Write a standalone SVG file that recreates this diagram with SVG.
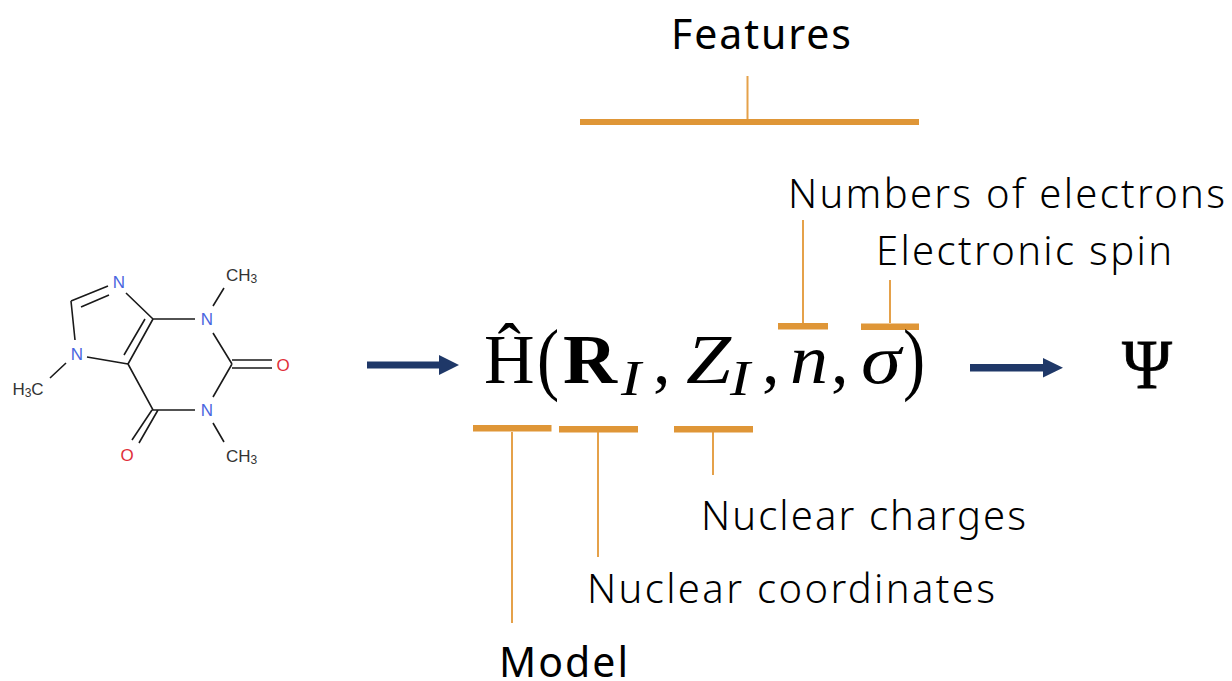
<svg xmlns="http://www.w3.org/2000/svg" width="1232" height="681" viewBox="0 0 1232 681">
<style>
.lb{font-family:"Noto Sans","Open Sans",sans-serif;font-size:40px;fill:#000;font-weight:300}
.hd{font-family:"Noto Sans","Open Sans",sans-serif;font-size:41px;fill:#000;font-weight:400}
.m{font-family:"Liberation Serif",serif;font-size:70px;fill:#000}
.i{font-style:italic}
.sub{font-size:50px;font-style:italic}
.bar{fill:#df9637}
.stem{stroke:#e5a14a;stroke-width:2;fill:none}
.bond{stroke:#1a1a1a;stroke-width:1.6;fill:none}
.at{font-family:"Liberation Sans",sans-serif;font-size:17px;text-anchor:middle}
.arr{fill:#1f3868}
</style>
<rect width="1232" height="681" fill="#fff"/>
<g id="molecule">
<path class="bond" d="M71 301L108 286M81 307L109 295M126 293L153 319L195 319M153 319L128 364M145 319L124 355M128 364L87 357M75 340L71 301M66 363L50 378M213 306L224 288M213 333L232 364M232 360H272M232 368H272M232 364L213 397M195 410H153L128 364M152 410L132 440M158 410L139 443M213 423L224 442"/>
<text class="at" x="119" y="288" fill="#4a66e0">N</text>
<text class="at" x="207" y="325" fill="#4a66e0">N</text>
<text class="at" x="207" y="416" fill="#4a66e0">N</text>
<text class="at" x="77" y="360" fill="#4a66e0">N</text>
<text class="at" x="283" y="371" fill="#e0303a">O</text>
<text class="at" x="127" y="461" fill="#e0303a">O</text>
<text class="at" x="241.500" y="281" fill="#333">CH<tspan font-size="12" dy="2">3</tspan></text>
<text class="at" x="241.500" y="462" fill="#333">CH<tspan font-size="12" dy="2">3</tspan></text>
<text class="at" x="28" y="395" fill="#333">H<tspan font-size="12" dy="2">3</tspan><tspan dy="-2">C</tspan></text>
</g>
<g id="connectors">
<path class="arr" d="M367 361.500H439V355L459 365L439 375V368.500H367Z"/>
<path class="arr" d="M970 364H1043V358L1063 367.700L1043 377.500V371.500H970Z"/>
<path class="stem" d="M747.500 76V119M803 220V323M890 280V323M512 432V623M598 432V557M713 432V475"/>
<rect class="bar" x="580" y="119" width="339" height="6"/>
<rect class="bar" x="778" y="323" width="50" height="6.500"/>
<rect class="bar" x="861" y="323.500" width="58" height="6.500"/>
<rect class="bar" x="473" y="425" width="78.500" height="6.500"/>
<rect class="bar" x="559" y="426" width="79" height="6.500"/>
<rect class="bar" x="674" y="426" width="79" height="6.500"/>
</g>
<g id="hamiltonian">
<text class="m" x="484" y="383">Ĥ</text>
<text class="m" transform="translate(537 385) scale(0.95 1.14)">(</text>
<text class="m" x="563" y="383" font-weight="700" textLength="54" lengthAdjust="spacingAndGlyphs">R</text>
<text class="m sub" x="621" y="395" textLength="20" lengthAdjust="spacingAndGlyphs">I</text>
<text class="m" x="653" y="383">,</text>
<text class="m i" x="686" y="383" textLength="45" lengthAdjust="spacingAndGlyphs">Z</text>
<text class="m sub" x="730" y="395" textLength="20" lengthAdjust="spacingAndGlyphs">I</text>
<text class="m" x="762" y="383">,</text>
<text class="m i" x="790" y="383" textLength="38" lengthAdjust="spacingAndGlyphs">n</text>
<text class="m" x="831" y="383">,</text>
<text class="m i" x="861" y="383" textLength="40" lengthAdjust="spacingAndGlyphs">σ</text>
<text class="m" transform="translate(903 385) scale(0.95 1.14)">)</text>
</g>
<g id="psi"><text class="m" x="1122" y="388" stroke="#000" stroke-width="0.8" textLength="50" lengthAdjust="spacingAndGlyphs">Ψ</text></g>
<g id="labels">
<text class="hd" x="671" y="49" textLength="180">Features</text>
<text class="lb" x="788" y="208" textLength="437">Numbers of electrons</text>
<text class="lb" x="876" y="265" textLength="296">Electronic spin</text>
<text class="lb" x="701" y="530" textLength="325">Nuclear charges</text>
<text class="lb" x="587" y="603" textLength="408">Nuclear coordinates</text>
<text class="hd" x="499" y="677" textLength="129">Model</text>
</g>
</svg>
